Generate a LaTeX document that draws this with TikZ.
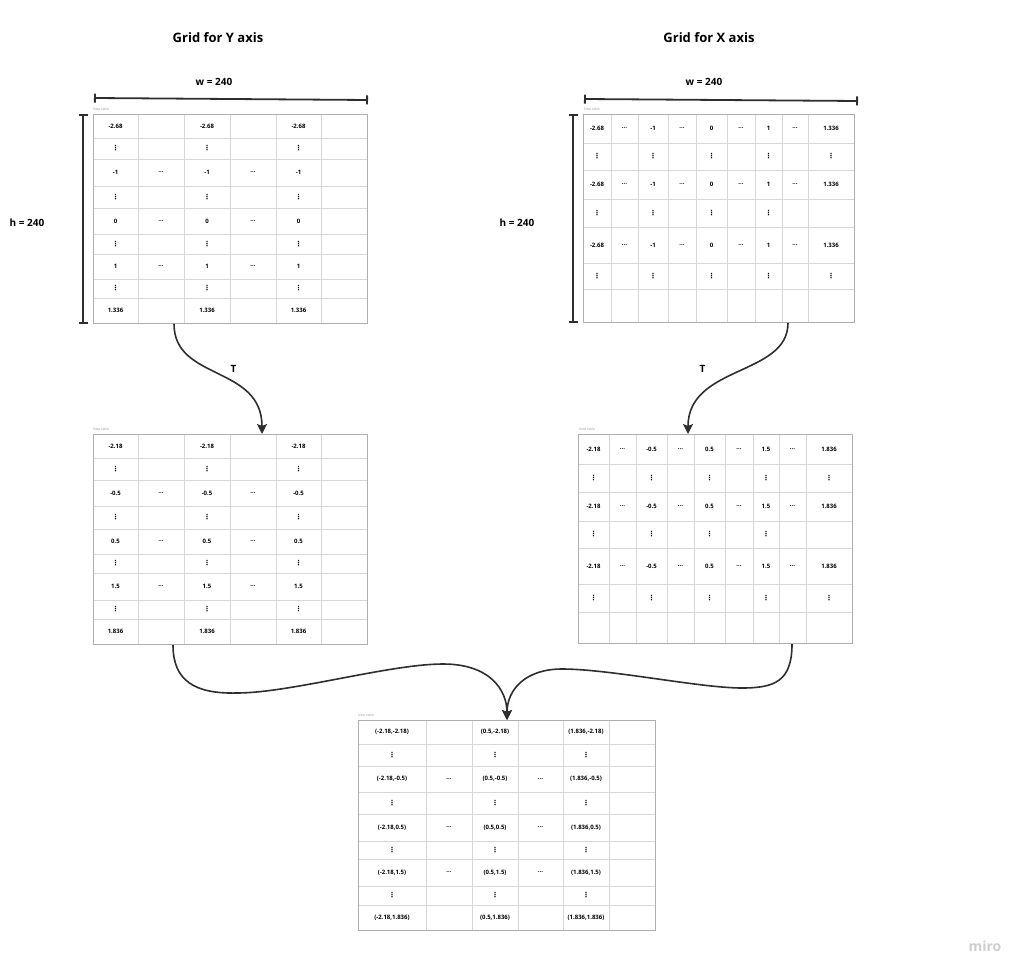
\documentclass[tikz,border=0pt]{standalone}
\usepackage{fontspec}
\setmainfont{Open Sans}
\newfontfamily\dotfont{DejaVu Sans}
\usetikzlibrary{arrows.meta,positioning}

\definecolor{ink}{HTML}{2E2E2E}
\definecolor{gridline}{HTML}{D6D6D6}
\definecolor{gridframe}{HTML}{AEAEAE}
\definecolor{faint}{HTML}{9C9C9C}
\definecolor{mark}{HTML}{CDCDD4}

\newcommand{\vd}{{\dotfont\fontsize{7}{8}\selectfont ⋮}}
\newcommand{\el}{...}

\begin{document}
\begin{tikzpicture}[x=1pt,y=-1pt,
    cell/.style={draw=gridline,line width=0.8pt},
    frame/.style={draw=gridframe,line width=1pt,inner sep=0pt,anchor=north west},
    val/.style={font=\fontsize{6}{7}\selectfont\bfseries,inner sep=0pt},
    tag/.style={font=\fontsize{3.4}{4}\selectfont,text=faint,anchor=south west,inner sep=0pt},
    title/.style={font=\fontsize{13}{15}\selectfont\bfseries},
    dimlabel/.style={font=\fontsize{10}{12}\selectfont\bfseries},
    dim/.style={draw=ink,line width=1.8pt,{Bar[width=9pt]}-{Bar[width=9pt]}},
    link/.style={draw=ink,line width=1.6pt,-{Stealth[length=10pt,width=10pt,inset=2pt]}},
  ]
\useasboundingbox (0,0) rectangle (1025,974);

% ---- grid for Y axis ----
\node[title] (titleY) at (218,38) {Grid for Y axis};
\foreach \x in {138,184,230,276,321} \draw[cell] (\x,114) -- (\x,323);
\foreach \y in {138,159,186,208,234,254,279,298} \draw[cell] (93,\y) -- (367,\y);
\node[frame,minimum width=274pt,minimum height=209pt] (gridY) at (93,114) {};
\node[tag] (gridY-tag) at (93,111) {New table};
\foreach \v/\y [count=\r] in {-2.68/126,-1/172.5,0/221,1/266.5,1.336/310.5}
  \foreach \x [count=\c] in {115.5,207,298.5}
    \node[val] (gridY-\r-\c) at (\x,\y) {\v};
\foreach \y [count=\r] in {148.5,197,244,288.5}
  \foreach \x [count=\c] in {115.5,207,298.5}
    \node[val] (gridY-d\r-\c) at (\x,\y) {\vd};
\foreach \y [count=\r] in {172.5,221,266.5}
  \foreach \x [count=\c] in {161,253}
    \node[val] (gridY-e\r-\c) at (\x,\y) {\el};
\draw[dim] ([xshift=1pt,yshift=16pt]gridY.north west) -- ([yshift=14pt]gridY.north east);
\node[dimlabel] (wY) at (214,82) {w = 240};
\draw[dim] ([xshift=-10pt]gridY.north west) -- ([xshift=-10pt]gridY.south west);
\node[dimlabel] (hY) at (27,223) {h = 240};

% ---- grid for X axis ----
\node[title] (titleX) at (709,38) {Grid for X axis};
\foreach \x in {611,638,668,696,727,755,782,808} \draw[cell] (\x,114) -- (\x,322);
\foreach \y in {143,170,199,227,263,289} \draw[cell] (583,\y) -- (854,\y);
\node[frame,minimum width=271pt,minimum height=208pt] (gridX) at (583,114) {};
\node[tag] (gridX-tag) at (584,111) {New table};
\foreach \y [count=\r] in {128.5,184.5,245}
  \foreach \v/\x [count=\c] in {-2.68/597,\el/624.5,-1/653,\el/682,0/711.5,\el/741,1/768.5,\el/795,1.336/831}
    \node[val] (gridX-\r-\c) at (\x,\y) {\v};
\foreach \y [count=\r] in {156.5,276}
  \foreach \x [count=\c] in {597,653,711.5,768.5,831}
    \node[val] (gridX-d\r-\c) at (\x,\y) {\vd};
\foreach \x [count=\c] in {597,653,711.5,768.5}
  \node[val] (gridX-m-\c) at (\x,213) {\vd};
\draw[dim] ([xshift=1pt,yshift=15pt]gridX.north west) -- ([xshift=3pt,yshift=13pt]gridX.north east);
\node[dimlabel] (wX) at (704,82) {w = 240};
\draw[dim] ([xshift=-10pt]gridX.north west) -- ([xshift=-10pt]gridX.south west);
\node[dimlabel] (hX) at (517,223) {h = 240};

% ---- transformed Y grid ----
\foreach \x in {138,184,230,276,321} \draw[cell] (\x,434) -- (\x,644);
\foreach \y in {458,480,506,529,554,573,600,619} \draw[cell] (93,\y) -- (367,\y);
\node[frame,minimum width=274pt,minimum height=210pt] (gridYT) at (93,434) {};
\node[tag] (gridYT-tag) at (93,431) {New table};
\foreach \v/\y [count=\r] in {-2.18/446,-0.5/493,0.5/541.5,1.5/586.5,1.836/631.5}
  \foreach \x [count=\c] in {115.5,207,298.5}
    \node[val] (gridYT-\r-\c) at (\x,\y) {\v};
\foreach \y [count=\r] in {469,517.5,563.5,609.5}
  \foreach \x [count=\c] in {115.5,207,298.5}
    \node[val] (gridYT-d\r-\c) at (\x,\y) {\vd};
\foreach \y [count=\r] in {493,541.5,586.5}
  \foreach \x [count=\c] in {161,253}
    \node[val] (gridYT-e\r-\c) at (\x,\y) {\el};

% ---- transformed X grid ----
\foreach \x in {609,636,667,694,725,753,779,806} \draw[cell] (\x,434) -- (\x,643);
\foreach \y in {464,492,521,548,584,612} \draw[cell] (578,\y) -- (852,\y);
\node[frame,minimum width=274pt,minimum height=209pt] (gridXT) at (578,434) {};
\node[tag] (gridXT-tag) at (579,431) {New table};
\foreach \y [count=\r] in {449,506.5,566}
  \foreach \v/\x [count=\c] in {-2.18/593.5,\el/622.5,-0.5/651.5,\el/680.5,0.5/709.5,\el/739,1.5/766,\el/792.5,1.836/829}
    \node[val] (gridXT-\r-\c) at (\x,\y) {\v};
\foreach \y [count=\r] in {478,598}
  \foreach \x [count=\c] in {593.5,651.5,709.5,766,829}
    \node[val] (gridXT-d\r-\c) at (\x,\y) {\vd};
\foreach \x [count=\c] in {593.5,651.5,709.5,766}
  \node[val] (gridXT-m-\c) at (\x,534.5) {\vd};

% ---- combined grid ----
\foreach \x in {426,472,518,563,609} \draw[cell] (\x,720) -- (\x,930);
\foreach \y in {744,766,792,814,841,859,886,905} \draw[cell] (358,\y) -- (655,\y);
\node[frame,minimum width=297pt,minimum height=210pt] (mesh) at (358,720) {};
\node[tag] (mesh-tag) at (358,717) {New table};
\foreach \yv/\y [count=\r] in {-2.18/732,-0.5/779,0.5/827.5,1.5/872.5,1.836/917.5}
  \foreach \xv/\x [count=\c] in {-2.18/392,0.5/495,1.836/586}
    \node[val] (mesh-\r-\c) at (\x,\y) {(\xv,\yv)};
\foreach \y [count=\r] in {755,803,850,895.5}
  \foreach \x [count=\c] in {392,495,586}
    \node[val] (mesh-d\r-\c) at (\x,\y) {\vd};
\foreach \y [count=\r] in {779,827.5,872.5}
  \foreach \x [count=\c] in {449,540.5}
    \node[val] (mesh-e\r-\c) at (\x,\y) {\el};

% ---- connectors ----
\draw[link] ([xshift=81pt]gridY.south west) .. controls +(0,57) and +(0,-69) .. ([xshift=169pt]gridYT.north west)
  node[dimlabel,pos=0.55,above right=1pt and 2pt] (tY) {T};
\draw[link] ([xshift=205pt]gridX.south west) .. controls +(0,53) and +(0,-69) .. ([xshift=110pt]gridXT.north west)
  node[dimlabel,pos=0.45,left=36pt] (tX) {T};
\draw[link] ([xshift=80pt]gridYT.south west) .. controls +(0,36) and (195,694) .. (237,693)
  .. controls (290,693) and (390,664) .. (443,664)
  .. controls (490,664) and (507,690) .. ([xshift=149pt]mesh.north west);
\draw[link] ([xshift=214pt]gridXT.south west) .. controls +(0,37) and (775,688) .. (742,688)
  .. controls (700,688) and (610,669) .. (562,669)
  .. controls (525,669) and (507,690) .. ([xshift=149pt]mesh.north west);

\node[font=\fontsize{14}{16}\selectfont\bfseries,text=mark] (brand) at (985,946) {miro};
\end{tikzpicture}
\end{document}
